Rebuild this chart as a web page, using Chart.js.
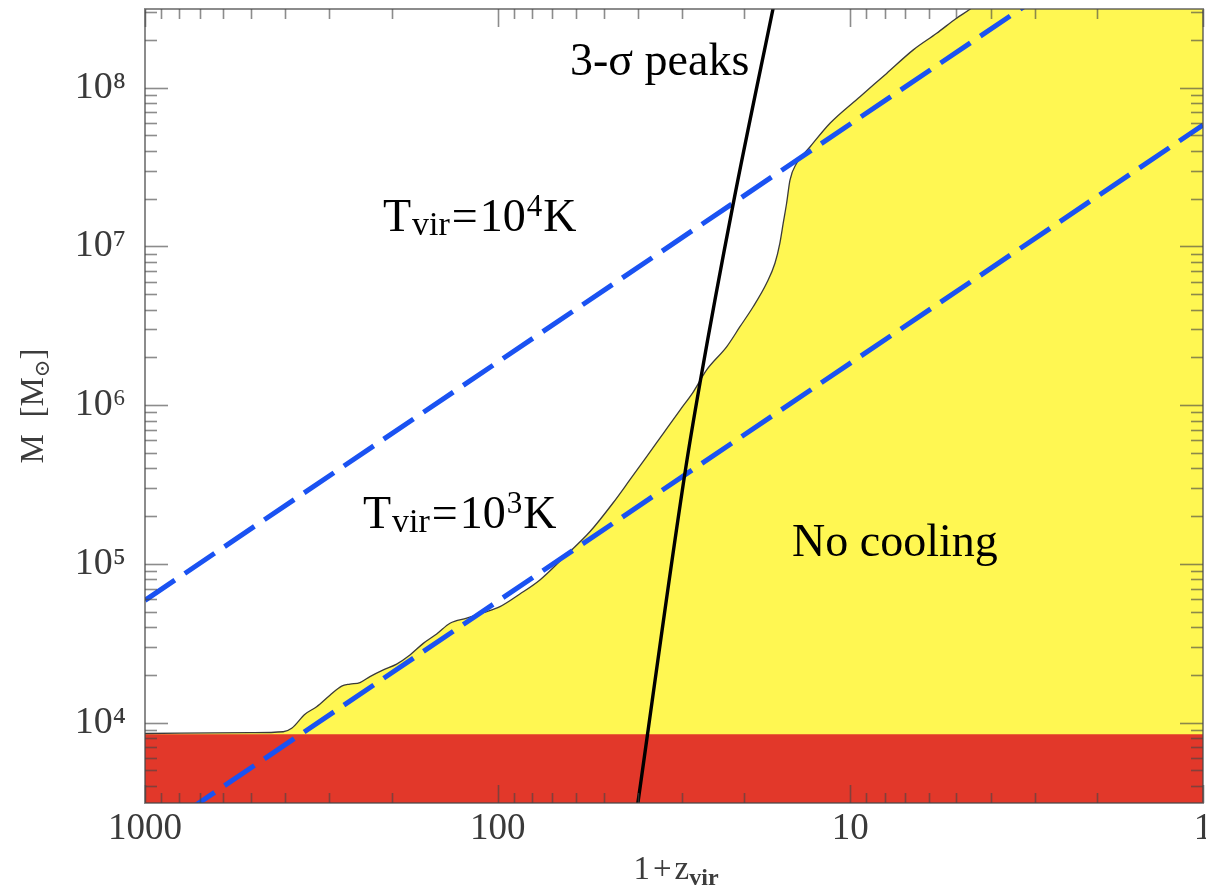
<!DOCTYPE html>
<html>
<head>
<meta charset="utf-8">
<script src="https://cdn.jsdelivr.net/npm/chart.js@4.4.1/dist/chart.umd.min.js"></script>
<style>
  html, body { margin: 0; padding: 0; background: #ffffff; }
  #wrap { width: 1206px; height: 893px; }
</style>
</head>
<body>
<div id="wrap"><canvas id="c" width="1206" height="893"></canvas></div>
<script>
// Minimum halo mass able to cool, against virialisation redshift (1+z).

// Cooling threshold: below this curve gas cannot cool (yellow region)
const zBoundary = [1000, 504, 405.5, 383.7, 351.9, 326.1, 298.9, 276.9, 262.3, 245.7,
  230.2, 211.0, 193.4, 177.3, 162.5, 148.9, 136.5, 122.4, 109.8, 98.5,
  86.5, 75.9, 64.4, 54.7, 47.1, 42.2, 37.8, 33.9, 30.4, 27.9,
  25.55, 22.4, 20.56, 18.86, 17.28, 16.36, 15.84, 15.50, 15.16, 14.83,
  14.20, 13.02, 11.42, 9.39, 7.89, 6.63, 5.69, 5.00, 4.58, 4.0, 1];
const mBoundary = [8.55e3, 8.65e3, 8.77e3, 9.22e3, 1.13e4, 1.26e4, 1.49e4, 1.70e4, 1.75e4, 1.79e4,
  1.95e4, 2.15e4, 2.34e4, 2.67e4, 3.16e4, 3.62e4, 4.23e4, 4.55e4, 4.93e4, 5.38e4,
  6.46e4, 7.92e4, 1.12e5, 1.60e5, 2.42e5, 3.38e5, 4.74e5, 6.65e5, 9.32e5, 1.21e6,
  1.67e6, 2.34e6, 3.12e6, 4.17e6, 5.86e6, 7.83e6, 1.05e7, 1.40e7, 1.87e7, 2.62e7,
  3.34e7, 4.23e7, 5.97e7, 8.77e7, 1.23e8, 1.73e8, 2.20e8, 2.74e8, 3.12e8, 4.0e8, 5.0e9];

// Mass of 3-sigma density peaks collapsing at each redshift
const zPeaks = [40.6, 29.44, 26.69, 21.52, 16.36];
const mPeaks = [2.5e3, 3.74e5, 1.38e6, 1.82e7, 3.6e8];

// Virial temperature lines
const zTvir = [1000, 1];
const mTvir4 = [5.9e4, 1.87e9];
const mTvir3 = [1.84e3, 5.82e7];

// Jeans-mass floor (red band)
const zFloor = [1000, 1];
const mFloor = [8.45e3, 8.45e3];

// Axis ticks
const xTicks = [1000, 100, 10, 1];
const xTickLabels = ['1000', '100', '10', '1'];
const yTicks = [1e4, 1e5, 1e6, 1e7, 1e8];
const yTickLabels = ['10\u2074', '10\u2075', '10\u2076', '10\u2077', '10\u2078'];

const SERIF = '"Liberation Serif", "DejaVu Serif", serif';
const FRAME = 'rgba(70,70,70,0.62)';
const toPoints = (xs, ys) => xs.map((x, i) => ({ x: x, y: ys[i] }));

// Draws a sequence of text runs with their own fonts and vertical offsets
function drawRuns(ctx, x, y, runs, align) {
  let total = 0;
  runs.forEach(r => { ctx.font = r.font; r.w = ctx.measureText(r.text).width + (r.gap || 0); total += r.w; });
  let cx = align === 'center' ? x - total / 2 : x;
  ctx.textAlign = 'left';
  runs.forEach(r => { ctx.font = r.font; ctx.fillText(r.text, cx, y + (r.dy || 0)); cx += r.w; });
}

// Inward ticks on all four sides plus the plot frame
const frameTicks = {
  id: 'frameTicks',
  afterDatasetsDraw(chart) {
    const { ctx, chartArea: a, scales: { x, y } } = chart;
    const seg = (x0, y0, x1, y1) => { ctx.beginPath(); ctx.moveTo(x0, y0); ctx.lineTo(x1, y1); ctx.stroke(); };
    ctx.save();
    ctx.strokeStyle = FRAME;
    ctx.lineWidth = 1.6;
    for (let e = Math.floor(Math.log10(y.min)); e <= Math.ceil(Math.log10(y.max)); e++) {
      for (let m = 1; m <= 9; m++) {
        const v = m * Math.pow(10, e);
        if (v < y.min || v > y.max) continue;
        const py = Math.round(y.getPixelForValue(v)) + 0.5;
        const len = m === 1 ? 23 : 12;
        seg(a.left, py, a.left + len, py);
        seg(a.right, py, a.right - len, py);
      }
    }
    for (let e = 0; e <= 3; e++) {
      for (let m = 1; m <= 9; m++) {
        const v = m * Math.pow(10, e);
        if (v < x.min || v > x.max) continue;
        const px = Math.round(x.getPixelForValue(v)) + 0.5;
        const len = m === 1 ? 18 : 10;
        seg(px, a.bottom, px, a.bottom - len);
        seg(px, a.top, px, a.top + len);
      }
    }
    ctx.lineWidth = 2;
    ctx.strokeRect(a.left, a.top, a.right - a.left, a.bottom - a.top);
    ctx.restore();
  }
};

// Axis titles and region annotations
const annotations = {
  id: 'annotations',
  afterDraw(chart) {
    const { ctx, chartArea: a } = chart;
    ctx.save();
    ctx.textBaseline = 'alphabetic';

    // x-axis title
    ctx.fillStyle = '#3c3c3c';
    drawRuns(ctx, (a.left + a.right) / 2 + 2, 879, [
      { text: '1', font: '33px ' + SERIF, gap: 3 },
      { text: '+', font: '33px ' + SERIF, gap: 3 },
      { text: 'z', font: '33px ' + SERIF },
      { text: 'vir', font: 'bold 24px ' + SERIF, dy: 6 }
    ], 'center');

    // y-axis title (rotated)
    ctx.save();
    ctx.translate(43, (a.top + a.bottom) / 2);
    ctx.rotate(-Math.PI / 2);
    drawRuns(ctx, 0, 0, [
      { text: 'M  [M', font: '33px ' + SERIF },
      { text: '\u2299', font: '21px ' + SERIF, dy: 6 },
      { text: ']', font: '33px ' + SERIF }
    ], 'center');
    ctx.restore();

    // region labels
    ctx.fillStyle = '#000000';
    drawRuns(ctx, 570, 75, [{ text: '3-\u03C3 peaks', font: '46px ' + SERIF }]);
    drawRuns(ctx, 792, 556, [{ text: 'No cooling', font: '46px ' + SERIF }]);
    const tLabel = (x, y, exp) => drawRuns(ctx, x, y, [
      { text: 'T', font: '46px ' + SERIF, gap: 1 },
      { text: 'vir', font: '34px ' + SERIF, dy: 4, gap: 2 },
      { text: '=', font: '46px ' + SERIF, gap: 2 },
      { text: '10', font: '46px ' + SERIF, gap: 1 },
      { text: exp, font: '31px ' + SERIF, dy: -15, gap: 1 },
      { text: 'K', font: '46px ' + SERIF }
    ]);
    tLabel(383, 231, '4');
    tLabel(363, 528, '3');
    ctx.restore();
  }
};

new Chart(document.getElementById('c'), {
  type: 'scatter',
  data: {
    datasets: [
      {
        label: '3-\u03C3 peaks',
        data: toPoints(zPeaks, mPeaks),
        showLine: true, borderColor: '#000000', borderWidth: 3.4,
        pointRadius: 0, cubicInterpolationMode: 'monotone', fill: false, order: 1
      },
      {
        label: 'T_vir = 1e4 K',
        data: toPoints(zTvir, mTvir4),
        showLine: true, borderColor: '#1A52F2', borderWidth: 5, borderDash: [36, 12],
        pointRadius: 0, fill: false, order: 2
      },
      {
        label: 'T_vir = 1e3 K',
        data: toPoints(zTvir, mTvir3),
        showLine: true, borderColor: '#1A52F2', borderWidth: 5, borderDash: [36, 12],
        pointRadius: 0, fill: false, order: 2
      },
      {
        label: 'cooling threshold',
        data: toPoints(zBoundary, mBoundary),
        showLine: true, borderColor: '#3a3a3a', borderWidth: 1.3,
        pointRadius: 0, cubicInterpolationMode: 'monotone', fill: false, order: 3
      },
      {
        label: 'floor',
        data: toPoints(zFloor, mFloor),
        showLine: true, borderWidth: 0, borderColor: 'rgba(0,0,0,0)',
        backgroundColor: '#E2382A', pointRadius: 0, fill: 'start', order: 4
      },
      {
        label: 'no cooling',
        data: toPoints(zBoundary, mBoundary),
        showLine: true, borderWidth: 0, borderColor: 'rgba(0,0,0,0)',
        backgroundColor: '#FFF752', pointRadius: 0, cubicInterpolationMode: 'monotone',
        fill: 'start', order: 5
      }
    ]
  },
  options: {
    responsive: false,
    animation: false,
    events: [],
    layout: { padding: { top: 9, right: 3, left: 0, bottom: 0 } },
    plugins: { legend: { display: false }, tooltip: { enabled: false } },
    scales: {
      x: {
        type: 'logarithmic',
        reverse: true,
        min: 1, max: 1000,
        grid: { display: false, drawTicks: false },
        border: { display: false },
        afterBuildTicks: (s) => { s.ticks = xTicks.map(v => ({ value: v })); },
        afterFit: (s) => { s.height = 90; s.paddingLeft = 0; s.paddingRight = 0; },
        ticks: {
          autoSkip: false, maxRotation: 0, padding: 4,
          color: '#3a3a3a', font: { family: SERIF, size: 37 },
          callback: (v) => xTickLabels[xTicks.indexOf(v)] ?? ''
        }
      },
      y: {
        type: 'logarithmic',
        min: 3.12e3, max: 3.13e8,
        grid: { display: false, drawTicks: false },
        border: { display: false },
        afterBuildTicks: (s) => { s.ticks = yTicks.map(v => ({ value: v })); },
        afterFit: (s) => { s.width = 145; s.paddingTop = 0; s.paddingBottom = 0; },
        ticks: {
          autoSkip: false, padding: 19,
          color: '#3a3a3a', font: { family: SERIF, size: 38 },
          callback: (v) => yTickLabels[yTicks.indexOf(v)] ?? ''
        }
      }
    }
  },
  plugins: [frameTicks, annotations]
});
</script>
</body>
</html>
